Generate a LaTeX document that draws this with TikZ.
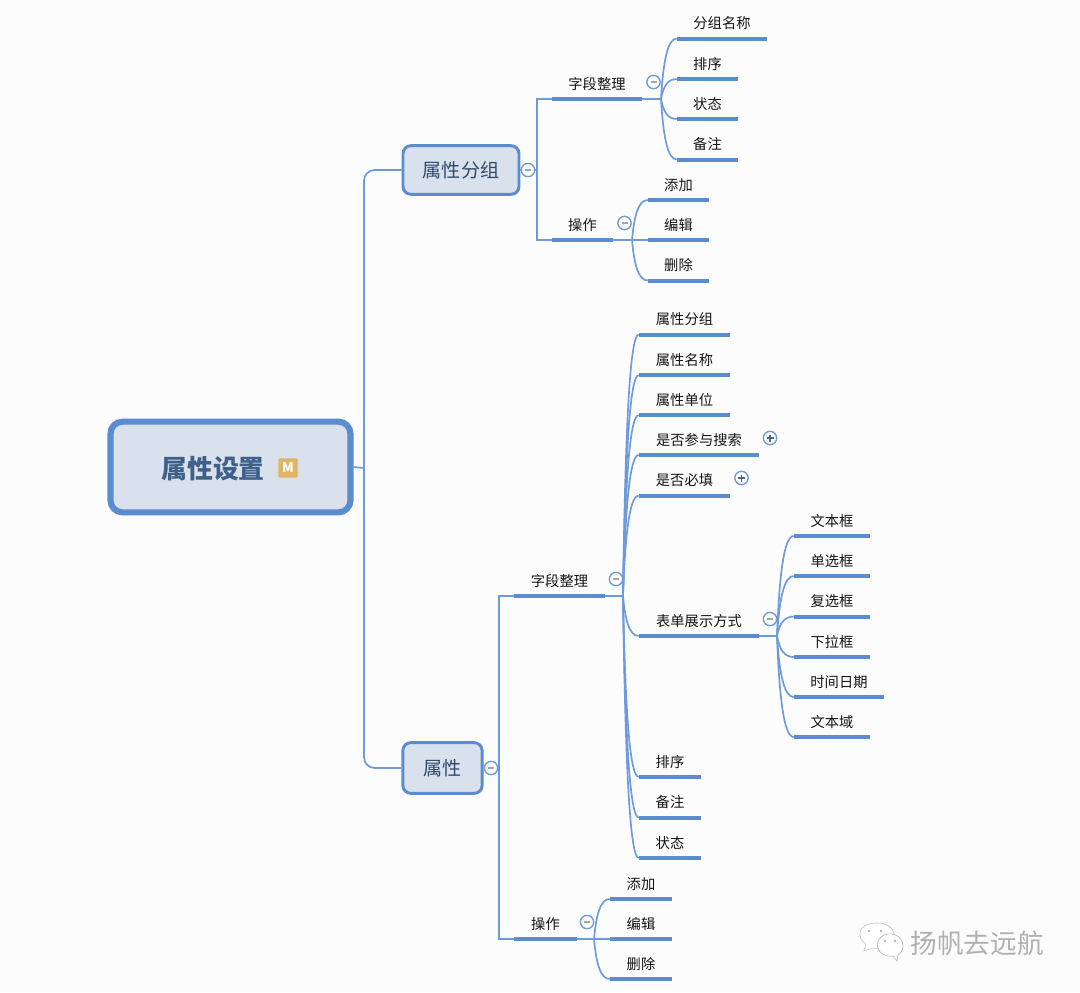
\documentclass[tikz,border=0pt]{standalone}
\usepackage{fontspec}
\setmainfont{Noto Sans CJK SC}
\usetikzlibrary{calc}
\definecolor{bgc}{HTML}{FCFCFD}
\definecolor{barc}{HTML}{5A8CCF}
\definecolor{linec}{HTML}{6C9ADA}
\definecolor{boxf}{HTML}{D9E1EC}
\definecolor{titlec}{HTML}{3F6088}
\definecolor{subc}{HTML}{2F4A6C}
\definecolor{inkc}{HTML}{141414}
\definecolor{iconf}{HTML}{E2B462}
\definecolor{icond}{HTML}{D9C9A0}
\tikzset{
  x=0.75pt,y=-0.75pt,
  conn/.style={draw=linec,line width=1.25pt},
  barline/.style={draw=barc,line width=3pt},
  leaf/.style={inner sep=0pt,minimum height=22.5pt,anchor=south,font=\fontsize{10.7pt}{12pt}\selectfont,text=inkc},
  rootbox/.style={draw=barc,fill=boxf,line width=4.6pt,rounded corners=9pt,inner sep=0pt},
  subbox/.style={draw=barc,fill=boxf,line width=2.2pt,rounded corners=6pt,inner sep=0pt,font=\fontsize{14.3pt}{16pt}\selectfont,text=subc},
  togglebase/.style={circle,draw=linec,fill=bgc,line width=1pt,minimum size=10pt,inner sep=0pt},
  minustoggle/.style={togglebase,path picture={\draw[draw=gray!70,line width=0.8pt] ($(path picture bounding box.center)+(-3,0)$) -- ($(path picture bounding box.center)+(3,0)$);}},
  plustoggle/.style={togglebase,path picture={\draw[draw=subc!85,line width=0.8pt] ($(path picture bounding box.center)+(-3.5,0)$) -- ($(path picture bounding box.center)+(3.5,0)$) ($(path picture bounding box.center)+(0,-3.5)$) -- ($(path picture bounding box.center)+(0,3.5)$);}},
}
% name, x0, x1, bar y, text
\newcommand{\mmleaf}[5]{%
  \node[leaf,minimum width={(#3-#2)*0.75pt}] (#1) at ({(#2+#3)/2},#4) {#5};
  \draw[barline] (#1.south west) -- (#1.south east);
}
% fork coordinate, leaf node
\newcommand{\mmfork}[2]{%
  \draw[conn] let \p1=(#1),\p2=(#2.south west) in
    (\p1) .. controls ({\x1+0.14*(\x2-\x1)},{\y1+0.62*(\y2-\y1)}) and ({\x1+0.42*(\x2-\x1)},\y2) .. (\p2);
}
\begin{document}
\begin{tikzpicture}
\useasboundingbox (0,0) rectangle (1080,992);
\fill[bgc] (0,0) rectangle (1080,992);

% main boxes
\node[rootbox,minimum width=180pt,minimum height=68pt] (root) at (230.5,467) {};
\node[font=\fontsize{19.4pt}{22pt}\selectfont\bfseries,text=titlec,inner sep=0pt] (roottext) at (213,469) {属性设置};
\node[draw=icond,fill=iconf,rounded corners=1pt,line width=0.5pt,minimum size=14.5pt,inner sep=0pt,text=white,font=\fontsize{10pt}{12pt}\selectfont\bfseries] (micon) at (288,468) {M};
\node[subbox,minimum width=87pt,minimum height=36.5pt] (grp) at (461,170) {\raisebox{-0.75pt}{属性分组}};
\node[subbox,minimum width=59.5pt,minimum height=38pt] (attr) at (442.5,768) {\raisebox{-0.75pt}{属性}};

% first branch
\mmleaf{gf}{552}{642}{99}{字段整理}
\mmleaf{gfa}{677}{767}{38.5}{分组名称}
\mmleaf{gfb}{677}{738}{79}{排序}
\mmleaf{gfc}{677}{738}{119}{状态}
\mmleaf{gfd}{677}{738}{159.5}{备注}
\mmleaf{gop}{552}{613}{240}{操作}
\mmleaf{goa}{648}{709}{200}{添加}
\mmleaf{gob}{648}{709}{240}{编辑}
\mmleaf{goc}{648}{709}{280.5}{删除}

% second branch
\mmleaf{af}{514}{605}{596}{字段整理}
\mmleaf{a1}{639}{730}{334.5}{属性分组}
\mmleaf{a2}{639}{730}{375}{属性名称}
\mmleaf{a3}{639}{730}{415}{属性单位}
\mmleaf{a4}{639}{759}{455}{是否参与搜索}
\mmleaf{a5}{639}{730}{495.5}{是否必填}
\mmleaf{a6}{639}{759}{636}{表单展示方式}
\mmleaf{a7}{639}{701}{777}{排序}
\mmleaf{a8}{639}{701}{817.5}{备注}
\mmleaf{a9}{639}{701}{858}{状态}
\mmleaf{f1}{794}{870}{536}{文本框}
\mmleaf{f2}{794}{870}{576}{单选框}
\mmleaf{f3}{794}{870}{616.5}{复选框}
\mmleaf{f4}{794}{870}{657}{下拉框}
\mmleaf{f5}{794}{884}{697}{时间日期}
\mmleaf{f6}{794}{870}{737}{文本域}
\mmleaf{aop}{514}{577}{939}{操作}
\mmleaf{aoa}{610}{672}{899}{添加}
\mmleaf{aob}{610}{672}{939}{编辑}
\mmleaf{aoc}{610}{672}{979}{删除}

% junctions
\coordinate (jroot) at (364,468);
\coordinate (jgrp) at (537,170);
\coordinate (jattr) at (499,768);
\coordinate (fgf) at (661,99);
\coordinate (fgo) at (632,240);
\coordinate (faf) at (623,596);
\coordinate (fa6) at (777,636);
\coordinate (fao) at (594,939);

% trunks
\draw[conn] (root.east) -- (jroot);
\draw[conn,rounded corners=8pt] (grp.west) -| (jroot) |- (attr.west);
\draw[conn] (grp.east) -- (jgrp);
\draw[conn] (gf.south west) -| (jgrp) |- (gop.south west);
\draw[conn] (attr.east) -- (jattr);
\draw[conn] (af.south west) -| (jattr) |- (aop.south west);
\draw[conn] (gf.south east) -- (fgf);
\draw[conn] (gop.south east) -- (fgo);
\draw[conn] (af.south east) -- (faf);
\draw[conn] (a6.south east) -- (fa6);
\draw[conn] (aop.south east) -- (fao);

% forks
\foreach \lf in {gfa,gfb,gfc,gfd} {\mmfork{fgf}{\lf}}
\foreach \lf in {goa,goc} {\mmfork{fgo}{\lf}}
\draw[conn] (fgo) -- (gob.south west);
\foreach \lf in {a1,a2,a3,a4,a5,a6,a7,a8,a9} {\mmfork{faf}{\lf}}
\foreach \lf in {f1,f2,f3,f4,f5,f6} {\mmfork{fa6}{\lf}}
\foreach \lf in {aoa,aoc} {\mmfork{fao}{\lf}}
\draw[conn] (fao) -- (aob.south west);

% toggles
\node[minustoggle] (t1) at (528,170) {};
\node[minustoggle] (t2) at (653.5,82) {};
\node[minustoggle] (t3) at (624.5,223) {};
\node[minustoggle] (t4) at (491,768) {};
\node[minustoggle] (t5) at (616,579) {};
\node[minustoggle] (t6) at (770,619) {};
\node[minustoggle] (t7) at (587,922) {};
\node[plustoggle] (t8) at (770,438) {};
\node[plustoggle] (t9) at (741.5,478) {};

% watermark
\draw[draw=gray!45,fill=white,line width=0.5pt] (864,951) -- (866,944) .. controls (856,938) and (857,923) .. (877,923) .. controls (893,923) and (897,935) .. (893,942) .. controls (888,948) and (877,949) .. (873,948) -- cycle;
\draw[draw=gray!55,fill=white,line width=0.5pt] (897,961) -- (893,956) .. controls (877,958) and (874,942) .. (881,937) .. controls (889,930) and (903,935) .. (903,946) .. controls (903,950) and (900,954) .. (898,955) -- cycle;
\fill[gray!60] (869,931) circle (1.4) (881,931) circle (1.4) (885,941) circle (1.3) (895,941) circle (1.3);
\node[font=\fontsize{20pt}{24pt}\selectfont,text=gray!62,inner sep=0pt] (mark) at (977,943) {扬帆去远航};
\end{tikzpicture}
\end{document}
